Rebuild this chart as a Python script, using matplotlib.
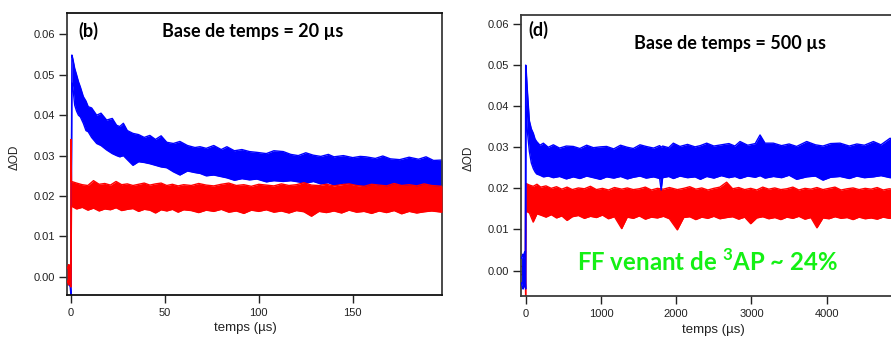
import matplotlib
matplotlib.use("Agg")
import matplotlib.pyplot as plt

plt.rcParams['font.family'] = ['Liberation Sans', 'DejaVu Sans']
plt.rcParams['mathtext.fontset'] = 'custom'
plt.rcParams['mathtext.rm'] = 'Lato'
plt.rcParams['mathtext.bf'] = 'Lato:bold'

# ---------------- panel (b): time base 20 us ----------------
b_ticks_x = [0, 50, 100, 150]
y_ticks = [0.00, 0.01, 0.02, 0.03, 0.04, 0.05, 0.06]

b_blue_t = [-2.0, -1.6, -1.2, -0.8, -0.4, -0.1, 0.0, 0.5, 1, 2, 3, 4, 5, 6.6, 8, 9.2, 11, 13.7, 16, 19,
            22, 24.3, 26, 27.9, 30, 33, 36, 39, 42, 45, 48, 51, 54.5, 58, 62, 66, 68.7, 72, 76, 80,
            83, 87, 91, 95, 99, 104, 108, 113, 117, 121, 125, 129, 133, 137, 140, 145, 150, 154, 157, 162,
            166, 170, 175, 180, 185, 189, 193, 197.5]
b_blue_hi = [0.0020, 0.0025, 0.0020, 0.0025, 0.0020, 0.0015, 0.0020, 0.0549, 0.0540, 0.0516, 0.0500, 0.0483, 0.0470, 0.0446, 0.0435, 0.0421, 0.0418, 0.0400, 0.0405, 0.0388,
             0.0392, 0.0375, 0.0372, 0.0380, 0.0362, 0.0355, 0.0352, 0.0345, 0.0350, 0.0340, 0.0349, 0.0333, 0.0330, 0.0335, 0.0325, 0.0320, 0.0322, 0.0318, 0.0325, 0.0315,
             0.0322, 0.0312, 0.0315, 0.0310, 0.0308, 0.0305, 0.0312, 0.0310, 0.0303, 0.0300, 0.0307, 0.0301, 0.0298, 0.0303, 0.0297, 0.0300, 0.0295, 0.0298, 0.0297, 0.0293,
             0.0299, 0.0292, 0.0290, 0.0296, 0.0291, 0.0297, 0.0288, 0.0289]
b_blue_lo = [-0.0015, -0.0020, -0.0015, -0.0020, -0.0025, -0.0040, -0.0045, 0.0480, 0.0470, 0.0425, 0.0410, 0.0400, 0.0396, 0.0380, 0.0362, 0.0359, 0.0345, 0.0330, 0.0325, 0.0314,
             0.0305, 0.0300, 0.0297, 0.0300, 0.0290, 0.0276, 0.0285, 0.0283, 0.0280, 0.0276, 0.0272, 0.0270, 0.0260, 0.0252, 0.0262, 0.0258, 0.0256, 0.0250, 0.0252, 0.0248,
             0.0245, 0.0239, 0.0243, 0.0240, 0.0242, 0.0235, 0.0238, 0.0236, 0.0238, 0.0235, 0.0232, 0.0236, 0.0230, 0.0233, 0.0227, 0.0232, 0.0229, 0.0226, 0.0223, 0.0228,
             0.0225, 0.0221, 0.0223, 0.0226, 0.0222, 0.0225, 0.0220, 0.0227]

b_red_t = [-2.0, -1.6, -1.2, -0.8, -0.4, -0.1, 0.0, 0.3, 3, 6, 9, 12, 15, 18, 21, 24, 27, 30, 33, 36,
           39, 42, 45, 48, 51, 54, 57, 60, 64, 68, 72, 76, 80, 84, 88, 92, 96, 100, 104, 108,
           112, 116, 120, 124, 128, 132, 136, 140, 144, 148, 152, 156, 160, 164, 168, 172, 176, 180, 184, 188,
           192, 197.5]
b_red_hi = [0.0020, 0.0025, 0.0030, 0.0020, 0.0030, 0.0025, 0.0340, 0.0236, 0.0232, 0.0228, 0.0226, 0.0238, 0.0229, 0.0231, 0.0227, 0.0236, 0.0228, 0.0230, 0.0226, 0.0229,
            0.0232, 0.0227, 0.0230, 0.0232, 0.0226, 0.0229, 0.0225, 0.0228, 0.0226, 0.0231, 0.0227, 0.0225, 0.0229, 0.0232, 0.0226, 0.0228, 0.0224, 0.0229, 0.0227, 0.0225,
            0.0230, 0.0226, 0.0228, 0.0233, 0.0227, 0.0226, 0.0229, 0.0225, 0.0228, 0.0230, 0.0226, 0.0224, 0.0229, 0.0227, 0.0225, 0.0231, 0.0226, 0.0228, 0.0225, 0.0230,
            0.0226, 0.0224]
b_red_lo = [-0.0010, -0.0015, -0.0020, -0.0012, -0.0018, -0.0025, -0.0025, 0.0175, 0.0168, 0.0172, 0.0165, 0.0170, 0.0163, 0.0168, 0.0166, 0.0171, 0.0164, 0.0167, 0.0169, 0.0162,
            0.0167, 0.0165, 0.0158, 0.0166, 0.0163, 0.0167, 0.0160, 0.0166, 0.0164, 0.0159, 0.0165, 0.0162, 0.0167, 0.0160, 0.0163, 0.0157, 0.0165, 0.0162, 0.0166, 0.0160,
            0.0163, 0.0158, 0.0164, 0.0161, 0.0150, 0.0162, 0.0159, 0.0163, 0.0158, 0.0165, 0.0160, 0.0162, 0.0157, 0.0163, 0.0159, 0.0164, 0.0156, 0.0162, 0.0158, 0.0161,
            0.0163, 0.0160]

# ---------------- panel (d): time base 500 us ----------------
d_ticks_x = [0, 1000, 2000, 3000, 4000]

d_blue_t = [-55, -45, -35, -25, -15, -5, 0, 4, 22, 49, 75, 102, 125, 146, 190, 235, 300, 368, 450, 540,
            633, 720, 810, 900, 990, 1076, 1170, 1260, 1350, 1430, 1519, 1600, 1700, 1780, 1800, 1820, 1900, 1962, 2050, 2150,
            2250, 2320, 2405, 2500, 2600, 2700, 2780, 2848, 2950, 3050, 3114, 3180, 3291, 3400, 3500, 3600, 3734, 3850, 3950, 4050,
            4177, 4300, 4400, 4500, 4620, 4720, 4842, 5000]
d_blue_hi = [0.0030, 0.0035, 0.0040, 0.0030, 0.0045, 0.0035, 0.0500, 0.0499, 0.0440, 0.0365, 0.0345, 0.0334, 0.0320, 0.0314, 0.0305, 0.0310, 0.0300, 0.0306, 0.0298, 0.0303,
             0.0302, 0.0297, 0.0305, 0.0299, 0.0301, 0.0302, 0.0296, 0.0305, 0.0300, 0.0297, 0.0306, 0.0302, 0.0298, 0.0304, 0.0300, 0.0303, 0.0299, 0.0310, 0.0302, 0.0307,
             0.0301, 0.0304, 0.0310, 0.0303, 0.0306, 0.0309, 0.0303, 0.0314, 0.0305, 0.0309, 0.0330, 0.0310, 0.0310, 0.0304, 0.0308, 0.0302, 0.0314, 0.0306, 0.0303, 0.0309,
             0.0310, 0.0303, 0.0308, 0.0305, 0.0314, 0.0306, 0.0322, 0.0310]
d_blue_lo = [-0.0030, -0.0040, -0.0045, -0.0035, -0.0040, -0.0030, -0.0045, 0.0400, 0.0340, 0.0290, 0.0262, 0.0248, 0.0240, 0.0235, 0.0232, 0.0228, 0.0230, 0.0226, 0.0229, 0.0223,
             0.0228, 0.0224, 0.0230, 0.0226, 0.0222, 0.0228, 0.0225, 0.0229, 0.0223, 0.0227, 0.0230, 0.0225, 0.0228, 0.0224, 0.0196, 0.0226, 0.0229, 0.0224, 0.0230, 0.0226,
             0.0228, 0.0222, 0.0229, 0.0225, 0.0231, 0.0226, 0.0229, 0.0224, 0.0230, 0.0227, 0.0231, 0.0225, 0.0229, 0.0226, 0.0232, 0.0222, 0.0228, 0.0230, 0.0220, 0.0227,
             0.0229, 0.0224, 0.0230, 0.0226, 0.0228, 0.0231, 0.0226, 0.0229]

d_red_t = [-55, -5, 0, 3, 50, 100, 150, 200, 270, 340, 410, 480, 550, 620, 700, 780, 860, 940, 1020, 1100,
           1180, 1276, 1350, 1430, 1510, 1590, 1670, 1750, 1830, 1910, 2015, 2100, 2180, 2260, 2340, 2420, 2500, 2580, 2670, 2750,
           2830, 2910, 2990, 3070, 3150, 3230, 3310, 3390, 3470, 3550, 3630, 3710, 3790, 3870, 3950, 4030, 4110, 4190, 4270, 4350,
           4430, 4510, 4590, 4670, 4750, 4830, 4910, 5000]
d_red_hi = [0.0010, 0.0010, 0.0212, 0.0212, 0.0208, 0.0205, 0.0210, 0.0203, 0.0206, 0.0200, 0.0204, 0.0198, 0.0203, 0.0197, 0.0201, 0.0199, 0.0205, 0.0197, 0.0200, 0.0196,
            0.0202, 0.0198, 0.0201, 0.0197, 0.0199, 0.0203, 0.0196, 0.0200, 0.0198, 0.0202, 0.0197, 0.0200, 0.0204, 0.0198, 0.0201, 0.0196, 0.0200, 0.0203, 0.0215, 0.0199,
            0.0202, 0.0197, 0.0200, 0.0196, 0.0203, 0.0198, 0.0201, 0.0197, 0.0199, 0.0203, 0.0196, 0.0200, 0.0198, 0.0202, 0.0197, 0.0200, 0.0203, 0.0196, 0.0199, 0.0201,
            0.0197, 0.0200, 0.0198, 0.0202, 0.0196, 0.0199, 0.0197, 0.0199]
d_red_lo = [-0.0010, -0.0010, -0.0065, 0.0145, 0.0140, 0.0118, 0.0138, 0.0135, 0.0130, 0.0136, 0.0128, 0.0133, 0.0122, 0.0131, 0.0134, 0.0127, 0.0132, 0.0129, 0.0135, 0.0126,
            0.0131, 0.0102, 0.0130, 0.0127, 0.0133, 0.0125, 0.0130, 0.0128, 0.0132, 0.0126, 0.0099, 0.0129, 0.0131, 0.0124, 0.0130, 0.0127, 0.0132, 0.0126, 0.0129, 0.0131,
            0.0125, 0.0130, 0.0114, 0.0128, 0.0131, 0.0126, 0.0129, 0.0124, 0.0130, 0.0127, 0.0132, 0.0125, 0.0129, 0.0104, 0.0128, 0.0126, 0.0131, 0.0127, 0.0129, 0.0124,
            0.0130, 0.0126, 0.0128, 0.0125, 0.0130, 0.0127, 0.0129, 0.0131]

for name, t, hi, lo in [("b_blue", b_blue_t, b_blue_hi, b_blue_lo), ("b_red", b_red_t, b_red_hi, b_red_lo),
                        ("d_blue", d_blue_t, d_blue_hi, d_blue_lo), ("d_red", d_red_t, d_red_hi, d_red_lo)]:
    assert len(t) == len(hi) == len(lo), (name, len(t), len(hi), len(lo))

BLUE = '#0000ff'
RED = '#ff0000'
GREEN = '#14f014'
SPINE = '#3a3a3a'

W, H = 891, 340
fig = plt.figure(figsize=(W / 100, H / 100), dpi=100)


def px_axes(x0, y0, x1, y1):
    return fig.add_axes([x0 / W, 1 - y1 / H, (x1 - x0) / W, (y1 - y0) / H])


def band(ax, t, hi, lo, color, z):
    ax.fill_between(t, lo, hi, color=color, lw=0, zorder=z)
    ax.plot(t, hi, color=color, lw=1.0, zorder=z)
    ax.plot(t, lo, color=color, lw=1.0, zorder=z)


def style(ax, xticks):
    ax.set_yticks(y_ticks)
    ax.set_yticklabels([f"{v:.2f}" for v in y_ticks])
    ax.set_xticks(xticks)
    ax.set_xticklabels([str(v) for v in xticks])
    ax.tick_params(direction='out', length=6, width=1, colors='#222222', labelsize=8)
    ax.tick_params(axis='y', pad=2.5)
    ax.tick_params(axis='x', pad=3.5)
    for s in ax.spines.values():
        s.set_color(SPINE)
        s.set_linewidth(1.3)
    ax.set_ylabel('ΔOD', fontsize=8.5, color='#222222')
    ax.set_xlabel('temps (µs)', fontsize=9.5, color='#222222')


# panel (b)
axb = px_axes(67, 13, 442, 295)
band(axb, b_blue_t, b_blue_hi, b_blue_lo, BLUE, 2)
band(axb, b_red_t, b_red_hi, b_red_lo, RED, 3)
axb.set_xlim(-2.1, 197.5)
axb.set_ylim(-0.0045, 0.0653)
style(axb, b_ticks_x)
axb.spines['top'].set_color('#111111')
axb.spines['bottom'].set_color('#111111')
axb.yaxis.set_label_coords(-0.125, 0.49)
axb.xaxis.set_label_coords(0.475, -0.095)

# panel (d)
axd = px_axes(521, 15, 902, 296)
band(axd, d_red_t, d_red_hi, d_red_lo, RED, 2)
band(axd, d_blue_t, d_blue_hi, d_blue_lo, BLUE, 3)
axd.set_xlim(-62, 5000)
axd.set_ylim(-0.0062, 0.0622)
style(axd, d_ticks_x)
axd.yaxis.set_label_coords(-0.121, 0.49)
axd.xaxis.set_label_coords(0.504, -0.10)

bold = dict(family=['Lato', 'DejaVu Sans'], fontweight='bold', color='black')
fig.text(78 / W, 1 - 31 / H, '(b)', fontsize=13, ha='left', va='center', **bold)
fig.text(253 / W, 1 - 32 / H, 'Base de temps = 20 µs', fontsize=13, ha='center', va='center', **bold)
fig.text(528 / W, 1 - 30 / H, '(d)', fontsize=13, ha='left', va='center', **bold)
fig.text(729.5 / W, 1 - 43 / H, 'Base de temps = 500 µs', fontsize=13, ha='center', va='center', **bold)
fig.text(707.5 / W, 1 - 262 / H, r'FF venant de $^{\mathbf{3}}$AP ~ 24%', fontsize=17.3, ha='center',
         va='center', family=['Lato', 'DejaVu Sans'], fontweight='bold', color=GREEN)

fig.savefig('out.png', dpi=100)
